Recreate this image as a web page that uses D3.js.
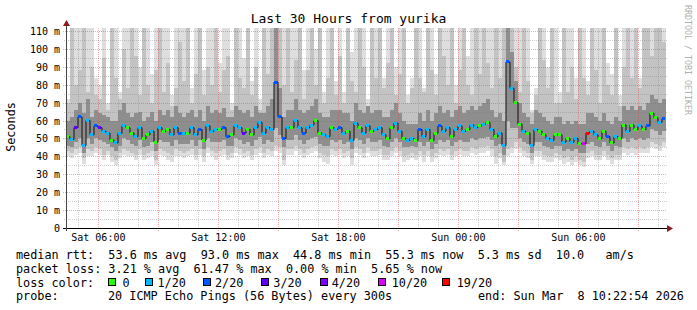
<!DOCTYPE html>
<html><head><meta charset="utf-8">
<script src="https://cdn.jsdelivr.net/npm/d3@7"></script>
<style>body{margin:0;background:#fff}svg{display:block}text{white-space:pre}</style>
</head><body>
<script>
// ---- data ----
const endTime = Date.UTC(2026, 2, 8, 10, 22, 54);
const spanHours = 30;
const stepMinutes = 12;
const yMax = 111.67;
const yTicks = [0,10,20,30,40,50,60,70,80,90,100,110];
const lossLabels = ["0","1/20","2/20","3/20","4/20","10/20","19/20"];
const lossColors = ["#26ff00","#00b8ff","#0059ff","#5e00ff","#7e00ff","#dd00ff","#ff0000"];

const median = [51,49.5,56,62,46,60,52,57,56,54,
 53,49,47.5,53,57,56,53,51,56,50,
 52,54,48,56,54,55,52,56,53,53,
 53,56,52,55,49,57,54,55,55,56,
 51,52,57,56,53,55,52,56,59,53,
 56,55,81.5,62,50,56,56,60,56,53,
 56,57.5,60,53,52,51,56,55,56,53,
 54,49,58.5,56,53,57,54,55,56,52,
 50,56,58.5,54,50,49,50,49,55,51,
 55,49,53,57,54,56,51,55,57,54,
 55,57.5,56,57,58,59,55,51,53,46,
 92.7,78,70,58,54,53,46,55,54,52,
 50,49,52,52,48,50,48,50,47,47,
 53,54,52,50,54,51,47.5,51,50,57.5,
 54,57.5,55,57,55,57,64,61.5,59,61];

const loss = [0,1,3,2,1,1,1,2,3,1,
 1,0,1,1,1,0,0,1,1,0,
 0,1,0,1,0,0,1,1,2,1,
 0,1,1,2,0,1,1,1,0,2,
 2,0,1,1,3,0,0,1,1,1,
 1,1,2,2,2,1,0,1,1,2,
 1,1,0,0,1,1,0,1,2,1,
 0,1,1,0,1,1,0,1,1,1,
 0,0,1,1,0,1,1,0,2,1,
 1,0,0,2,1,1,0,1,1,1,
 0,1,1,0,1,0,1,0,1,1,
 2,1,0,0,1,0,1,1,0,0,
 1,1,0,0,1,0,1,1,0,5,
 6,1,1,0,0,2,0,1,0,0,
 1,0,0,1,0,2,0,0,1,2];

const smokeHi1 = [72,112,112,112,112,112,112,84,80,112,
 70,112,112,76,112,112,112,112,90,112,
 112,86,112,112,112,112,74,112,112,112,
 112,78,112,112,88,112,112,112,92,112,
 112,70,112,112,95,112,82,112,72,112,
 112,112,112,112,112,112,112,112,112,88,
 112,112,100,112,76,112,112,82,112,76,
 112,98,112,112,112,72,112,112,112,84,
 112,112,90,112,112,74,84,112,112,78,
 112,112,86,112,112,112,112,80,112,112,
 96,112,112,112,112,112,112,112,112,112,
 112,112,112,112,112,112,66,78,112,112,
 90,112,112,76,112,112,112,84,112,112,
 82,112,112,112,112,92,86,112,74,112,
 112,112,112,84,112,112,112,112,112,112];

const smokeHi2 = [70,112,80,88,112,76,90,74,72,95,
 66,112,84,72,100,78,112,96,74,112,
 80,70,88,112,76,92,68,78,104,82,
 112,70,86,112,74,90,80,112,76,88,
 96,66,112,84,78,112,74,90,66,112,
 86,112,112,112,80,112,76,94,112,72,
 88,112,80,112,70,84,112,74,96,70,
 112,82,76,112,90,68,112,84,112,78,
 92,112,74,86,112,70,78,112,84,76,
 112,88,74,112,96,80,112,70,88,112,
 80,74,112,86,112,92,78,112,84,112,
 112,112,90,76,112,82,64,74,112,94,
 78,112,70,70,112,76,90,72,112,84,
 74,112,88,70,112,80,74,112,68,90,
 112,84,112,78,112,112,96,112,112,104];

const smokeHi3 = [60,62,66,70,64,72,62,66,64,63,
 62,60,60,66,70,64,62,64,65,60,
 62,65,60,66,63,66,62,68,64,62,
 64,66,62,66,60,68,64,66,64,67,
 62,62,68,66,64,66,62,68,64,64,
 68,72,112,78,62,66,66,72,66,64,
 66,68,72,64,62,62,66,66,66,64,
 64,60,70,66,64,68,64,66,66,62,
 62,66,70,64,60,58,58,58,64,60,
 66,60,64,68,64,66,62,66,68,64,
 66,68,66,68,70,72,66,62,64,60,
 112,98,82,70,64,62,58,66,64,62,
 60,58,62,62,58,60,58,60,58,58,
 64,64,62,60,64,60,58,62,60,68,
 66,68,66,68,66,70,74,72,70,72];

const smokeLo3 = [46,45,48,50,42,50,47,50,49,48,
 47,45,43,46,50,49,47,46,49,45,
 46,48,43,49,48,48,46,49,47,47,
 47,49,46,49,44,50,48,48,48,49,
 46,46,50,49,47,48,46,49,51,47,
 49,48,56,52,45,49,49,52,49,47,
 49,50,51,47,46,46,49,48,49,47,
 48,44,50,49,47,50,48,48,49,46,
 45,48,50,48,45,45,46,45,48,46,
 48,44,47,49,48,49,46,48,49,48,
 48,50,49,50,50,51,49,46,47,41,
 60,56,56,50,48,47,42,48,48,46,
 45,44,46,46,43,44,43,44,42,42,
 47,48,46,45,48,46,43,46,45,50,
 48,50,49,50,49,50,55,54,52,54];

const smokeLo2 = [43,42,44,45,39,44,43,45,44,41,
 43,40,38,42,44,43,42,41,44,41,
 42,43,38,44,43,42,41,44,43,42,
 43,44,41,44,40,45,43,42,43,44,
 41,42,45,44,42,43,41,44,45,42,
 44,43,46,45,38,44,44,46,44,42,
 44,45,46,42,41,40,44,43,44,42,
 43,39,45,44,42,45,43,43,44,41,
 41,43,45,43,40,41,42,41,43,41,
 43,40,42,44,43,44,41,43,44,43,
 43,45,44,45,45,46,44,40,42,37,
 44,45,48,45,43,42,38,43,43,41,
 40,40,42,41,39,40,38,40,38,37,
 42,43,41,41,43,41,39,41,41,45,
 44,45,44,45,44,45,48,47,46,48];

const smokeLo1 = [40,39,41,42,36,40,40,42,41,38,
 41,37,35,39,41,40,40,38,41,38,
 39,40,35,41,40,38,37,40,40,39,
 40,41,38,41,37,42,40,38,40,41,
 38,39,42,41,39,40,38,41,42,39,
 41,40,43,42,35,41,41,43,41,39,
 41,42,43,39,37,36,41,40,41,39,
 40,35,42,41,39,42,40,40,41,38,
 38,40,42,40,37,38,39,38,40,37,
 40,37,39,41,40,41,38,40,41,40,
 40,42,41,42,42,43,40,36,39,35,
 40,42,44,42,40,39,36,40,40,38,
 37,37,39,38,36,37,35,37,35,34,
 39,40,38,38,40,38,36,38,38,42,
 41,42,41,42,42,42,45,44,43,45];

// ---- chart ----
const W = 697, H = 310;
const svg = d3.select("body").append("svg").attr("width", W).attr("height", H)
  .style("font-family", "'DejaVu Sans Mono', monospace");
svg.append("rect").attr("width", W).attr("height", H).attr("fill", "#fff");

const startTime = endTime - spanHours * 3600e3;
const x = d3.scaleUtc().domain([new Date(startTime), new Date(endTime)]).range([66, 666]);
const y = d3.scaleLinear().domain([0, yMax]).range([228, 28]).clamp(true);
const times = median.map((d, i) => new Date(startTime + i * stepMinutes * 60e3));
const colW = i => x(new Date(times[i].getTime() + stepMinutes * 60e3)) - x(times[i]);

const bands = [
  {hi: smokeHi1, lo: smokeLo1, color: "#dedede"},
  {hi: smokeHi2, lo: smokeLo2, color: "#c3c3c3"},
  {hi: smokeHi3, lo: smokeLo3, color: "#8e8e8e"}
];
const gSmoke = svg.append("g").attr("shape-rendering", "crispEdges");
bands.forEach(b => {
  gSmoke.append("g").selectAll("rect").data(median).join("rect")
    .attr("x", (d, i) => x(times[i]))
    .attr("width", (d, i) => colW(i))
    .attr("y", (d, i) => y(b.hi[i]))
    .attr("height", (d, i) => Math.max(0, y(b.lo[i]) - y(b.hi[i])))
    .attr("fill", b.color);
});

// grid (drawn over the smoke, as rrdtool does)
const gGrid = svg.append("g").attr("shape-rendering", "crispEdges");
for (let v = 5; v <= 110; v += 5) {
  const major = v % 10 === 0;
  gGrid.append("line")
    .attr("x1", major ? 63 : 64).attr("x2", 667)
    .attr("y1", Math.round(y(v)) + 0.5).attr("y2", Math.round(y(v)) + 0.5)
    .attr("stroke", major ? "rgba(240,60,60,0.45)" : "rgba(130,130,130,0.4)")
    .attr("stroke-dasharray", "1,1");
}
d3.utcHour.range(new Date(startTime), new Date(endTime)).forEach(t => {
  const major = t.getUTCHours() % 3 === 0;
  const xp = Math.round(x(t)) + 0.5;
  gGrid.append("line")
    .attr("x1", xp).attr("x2", xp).attr("y1", 28).attr("y2", major ? 231 : 230)
    .attr("stroke", major ? "rgba(240,60,60,0.45)" : "rgba(130,130,130,0.4)")
    .attr("stroke-dasharray", "1,1");
});

// median: connecting step line + loss-coloured marks
svg.append("path")
  .datum(median)
  .attr("d", d3.line().x((d, i) => x(times[i]) + colW(i) / 2).y(d => y(d)).curve(d3.curveStep))
  .attr("fill", "none").attr("stroke", "#111").attr("stroke-width", 1);
svg.append("g").attr("shape-rendering", "crispEdges").selectAll("rect").data(median).join("rect")
  .attr("x", (d, i) => x(times[i]))
  .attr("width", (d, i) => colW(i) - 1)
  .attr("y", d => y(d) - 1.5)
  .attr("height", 3)
  .attr("fill", (d, i) => lossColors[loss[i]]);

// axes
svg.append("line").attr("x1", 63).attr("x2", 670).attr("y1", 228.5).attr("y2", 228.5)
  .attr("stroke", "#000").attr("shape-rendering", "crispEdges");
svg.append("line").attr("x1", 66.5).attr("x2", 66.5).attr("y1", 231).attr("y2", 24)
  .attr("stroke", "#444").attr("shape-rendering", "crispEdges");
svg.append("path").attr("d", "M667,225 L673,228.5 L667,232 Z").attr("fill", "#8b1a1a");
svg.append("path").attr("d", "M63,26 L66.5,20 L70,26 Z").attr("fill", "#8b1a1a");

// y tick labels
svg.append("g").selectAll("text").data(yTicks).join("text")
  .attr("x", 60).attr("y", d => y(d) + 4)
  .attr("text-anchor", "end").attr("font-size", "10px").attr("fill", "#000")
  .text(d => d === 0 ? "0" : d + " m");

// x tick labels
const fmt = d3.utcFormat("%a %H:%M");
svg.append("g").selectAll("text")
  .data(d3.utcHour.every(6).range(new Date(startTime), new Date(endTime)))
  .join("text")
  .attr("x", d => x(d)).attr("y", 241)
  .attr("text-anchor", "middle").attr("font-size", "10px").attr("fill", "#000")
  .text(d => fmt(d));

// title & axis label
svg.append("text").attr("x", 348.5).attr("y", 23).attr("text-anchor", "middle")
  .attr("font-size", "13px").attr("fill", "#000").text("Last 30 Hours from yurika");
svg.append("text").attr("transform", "translate(15,127) rotate(-90)").attr("text-anchor", "middle")
  .attr("font-size", "11.8px").attr("fill", "#000").text("Seconds");
svg.append("text").attr("transform", "translate(685,5) rotate(90)")
  .attr("font-size", "8.3px").attr("fill", "#b0b0b0").text("RRDTOOL / TOBI OETIKER");

// legend
const lg = svg.append("g").attr("font-size", "11.8px").attr("fill", "#000");
lg.append("text").attr("x", 16).attr("y", 258.5)
  .text("median rtt:  53.6 ms avg  93.0 ms max  44.8 ms min  55.3 ms now  5.3 ms sd  10.0   am/s");
lg.append("text").attr("x", 16).attr("y", 272.5)
  .text("packet loss: 3.21 % avg  61.47 % max  0.00 % min  5.65 % now");
lg.append("text").attr("x", 16).attr("y", 286.5).text("loss color:");
const boxX = [108.5, 145.5, 203.5, 261.5, 320.5, 378.5, 442.5];
const txtX = [122.5, 157.5, 215, 273.3, 331.7, 391.7, 456.7];
lossLabels.forEach((l, i) => {
  lg.append("rect").attr("x", boxX[i]).attr("y", 278.5).attr("width", 7).attr("height", 7)
    .attr("fill", lossColors[i]).attr("stroke", "#000").attr("stroke-width", 1);
  lg.append("text").attr("x", txtX[i]).attr("y", 286.5).text(l);
});
lg.append("text").attr("x", 16).attr("y", 300).text("probe:");
lg.append("text").attr("x", 108).attr("y", 300).text("20 ICMP Echo Pings (56 Bytes) every 300s");
lg.append("text").attr("x", 478).attr("y", 300).text("end: Sun Mar  8 10:22:54 2026");
</script>
</body></html>
